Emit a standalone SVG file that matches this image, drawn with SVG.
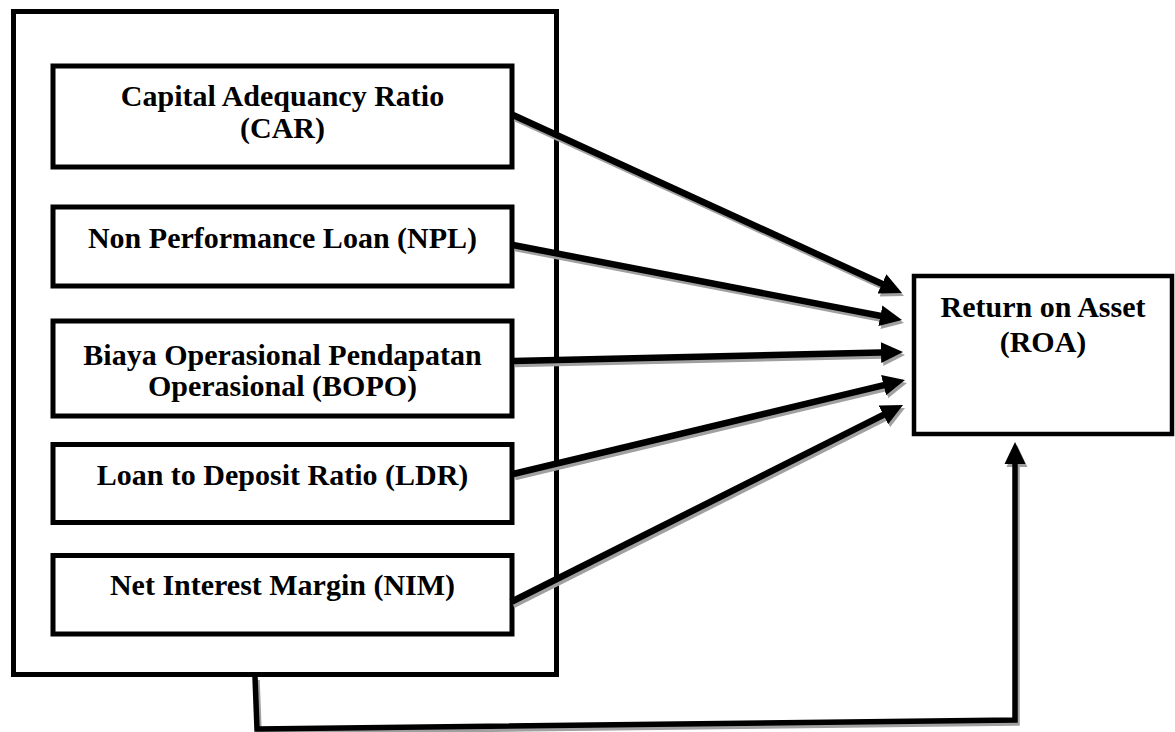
<svg xmlns="http://www.w3.org/2000/svg" width="1175" height="732" viewBox="0 0 1175 732">
<defs>
<style>
.box{fill:#fff;stroke:#000;stroke-width:5}
.t{font-family:"Liberation Serif","Times New Roman",serif;font-weight:bold;font-size:30px;fill:#000;text-anchor:middle}
.ln{fill:none;stroke:#000;stroke-width:6.5;marker-end:url(#ah)}
.sh{fill:none;stroke:#a0a0a0;stroke-width:6.5;marker-end:url(#ahs)}
.bl{fill:none;stroke:#000;stroke-width:5.5;stroke-linejoin:miter;marker-end:url(#ah)}
.bs{fill:none;stroke:#a0a0a0;stroke-width:5.5;stroke-linejoin:miter;marker-end:url(#ahs)}
</style>
<marker id="ah" markerUnits="userSpaceOnUse" markerWidth="22" markerHeight="22" refX="10" refY="10.5" orient="auto" viewBox="0 0 22 21"><path d="M0,0 L22,10.5 L0,21 z" fill="#000"/></marker>
<marker id="ahs" markerUnits="userSpaceOnUse" markerWidth="22" markerHeight="22" refX="10" refY="10.5" orient="auto" viewBox="0 0 22 21"><path d="M0,0 L22,10.5 L0,21 z" fill="#a0a0a0"/></marker>
</defs>
<rect width="1175" height="732" fill="#fff"/>
<g id="independent-group"><rect class="box" x="13.5" y="11.5" width="543" height="663"/></g>
<g id="car"><rect class="box" x="53" y="66" width="459" height="101"/><text class="t" x="282.5" y="106">Capital Adequancy Ratio</text><text class="t" x="282.5" y="138">(CAR)</text></g>
<g id="npl"><rect class="box" x="53" y="207" width="459" height="79"/><text class="t" x="282.5" y="248">Non Performance Loan (NPL)</text></g>
<g id="bopo"><rect class="box" x="53" y="321" width="459" height="95"/><text class="t" x="282.5" y="365">Biaya Operasional Pendapatan</text><text class="t" x="282.5" y="396">Operasional (BOPO)</text></g>
<g id="ldr"><rect class="box" x="53" y="444.5" width="459" height="78"/><text class="t" x="282.5" y="485">Loan to Deposit Ratio (LDR)</text></g>
<g id="nim"><rect class="box" x="53" y="555.5" width="459" height="78.5"/><text class="t" x="282.5" y="595">Net Interest Margin (NIM)</text></g>
<g id="roa"><rect class="box" x="914" y="276" width="258" height="158" style="stroke-width:4.5"/><text class="t" x="1043" y="317">Return on Asset</text><text class="t" x="1043" y="352">(ROA)</text></g>
<g id="connectors">
<g transform="translate(2,3)">
<path class="sh" d="M513,115 L891.1,288"/>
<path class="sh" d="M513,245 L890.2,317.7"/>
<path class="sh" d="M513,361 L891,352.3"/>
<path class="sh" d="M513,474 L893.3,382.8"/>
<path class="sh" d="M511,602 L892.3,410.4"/>
<path class="bs" d="M255,677 L257,729 L1015,720 L1015,454"/>
</g>
<path class="ln" d="M513,115 L891.1,288"/>
<path class="ln" d="M513,245 L890.2,317.7"/>
<path class="ln" d="M513,361 L891,352.3"/>
<path class="ln" d="M513,474 L893.3,382.8"/>
<path class="ln" d="M511,602 L892.3,410.4"/>
<path class="bl" d="M255,677 L257,729 L1015,720 L1015,454"/>
</g>
</svg>
